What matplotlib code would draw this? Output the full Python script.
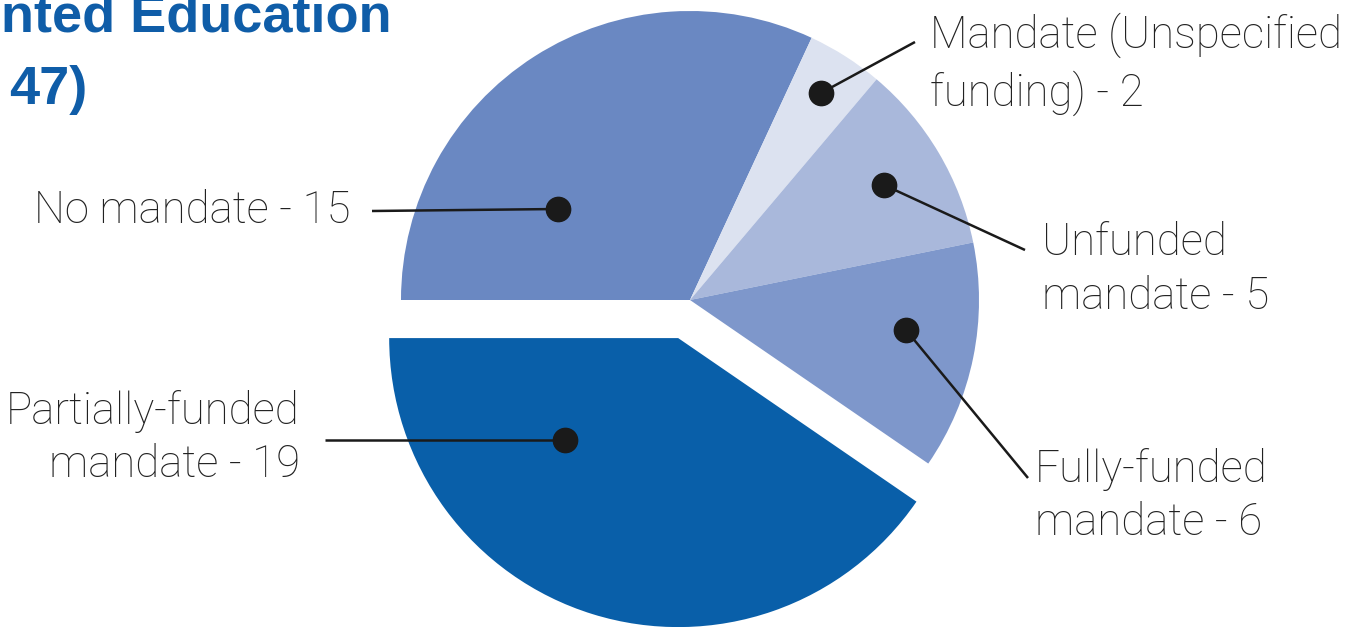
import matplotlib.pyplot as plt

# =========================================================
# DATA
# =========================================================
categories = ["No mandate", "Mandate (Unspecified funding)", "Unfunded mandate",
              "Fully-funded mandate", "Partially-funded mandate"]
counts = [15, 2, 5, 6, 19]
label_texts = ["No mandate - 15", "Mandate (Unspecified\nfunding) - 2", "Unfunded\nmandate - 5",
               "Fully-funded\nmandate - 6", "Partially-funded\nmandate - 19"]
colors = ["#6A88C2", "#DCE2F0", "#A9B8DB", "#7E97CB", "#095FA9"]
explode = [0, 0, 0, 0, 0.138]

# layout (pixel coordinates, y down)
center = (690, 300)
radius = 289
dots = [(558, 209), (821, 93), (884, 185), (906, 330), (565, 440)]
line_ends = [(372, 211), (915, 42), (1025, 250), (1028, 478), (325, 440)]
text_pos = [(350, 211, "right"), (930, 64, "left"), (1042, 270, "left"),
            (1035, 496, "left"), (300, 438, "right")]

W, H = 1353, 627
fig = plt.figure(figsize=(W / 100, H / 100), dpi=100)
ax = fig.add_axes([0, 0, 1, 1])

# y axis is inverted, so counterclock=True draws clockwise on screen
# matplotlib's explode is in data units, so scale by the radius
ax.pie(counts, colors=colors, explode=[e * radius for e in explode], startangle=180,
       counterclock=True, center=center, radius=radius, wedgeprops=dict(linewidth=0))

ax.set_xlim(0, W)
ax.set_ylim(H, 0)
ax.set_aspect("auto")
ax.axis("off")

for (dx, dy), (lx, ly), (tx, ty, ha), txt in zip(dots, line_ends, text_pos, label_texts):
    ax.plot([lx, dx], [ly, dy], color="#1a1a1a", linewidth=1.8, solid_capstyle="butt")
    ax.plot(dx, dy, "o", color="#1a1a1a", markersize=17.5)
    ax.text(tx, ty, txt, ha=ha, va="center", fontsize=31.5, family="Roboto",
            fontweight="light", color="#222222", linespacing=1.34, multialignment=ha)

# title (cut off at the edges in the reference)
ax.text(392, 31, "nted Education", ha="right", va="baseline", fontsize=39,
        family="Liberation Sans", fontweight="bold", color="#0F5DA8")
ax.text(87, 104, "47)", ha="right", va="baseline", fontsize=39,
        family="Liberation Sans", fontweight="bold", color="#0F5DA8")

fig.savefig("out.png", dpi=100)
